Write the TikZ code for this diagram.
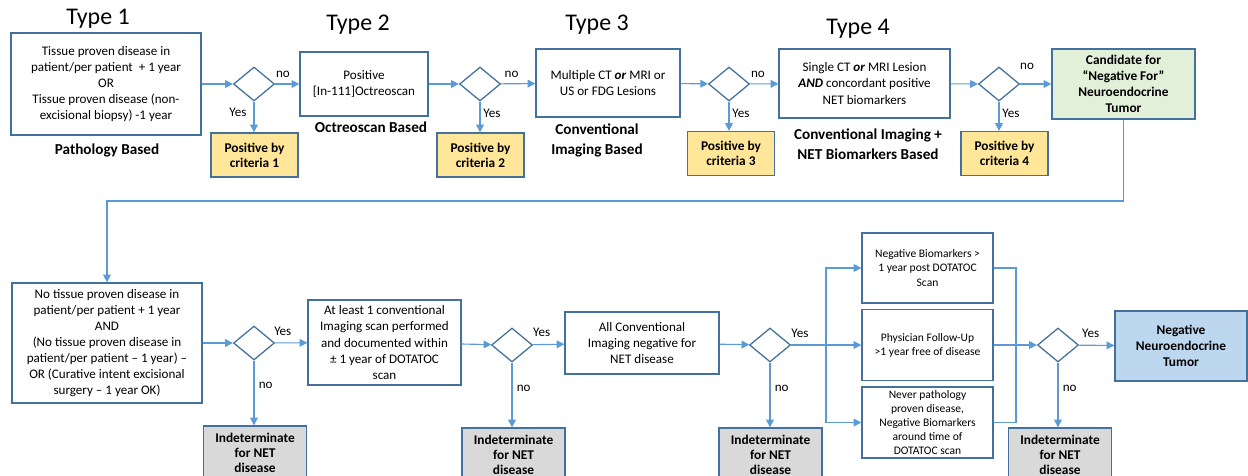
\documentclass[tikz,border=0pt]{standalone}
\usepackage{fontspec}
\setmainfont{Carlito}
\usetikzlibrary{shapes.geometric,arrows.meta,positioning}
\definecolor{edgeblue}{HTML}{41719C}
\definecolor{lineblue}{HTML}{5B9BD5}
\definecolor{posyellow}{HTML}{FFE699}
\definecolor{candgreen}{HTML}{E2F0D9}
\definecolor{negblue}{HTML}{BDD7EE}
\definecolor{indgrey}{HTML}{D9D9D9}
\tikzset{
  wh/.style 2 args={minimum width=#1*0.025cm, minimum height=#2*0.025cm},
  box/.style={draw=edgeblue, line width=0.9pt, fill=white, align=center, inner sep=1pt, font=\fontsize{9.3}{11.4}\selectfont},
  smallbox/.style={box, font=\fontsize{8.2}{10}\selectfont},
  result/.style={box, font=\bfseries\fontsize{9.5}{10.7}\selectfont},
  posbox/.style={result, fill=posyellow, wh={87}{44}},
  indet/.style={result, fill=indgrey, wh={103}{54}},
  check/.style={diamond, draw=edgeblue, line width=0.9pt, fill=white, inner sep=0pt, wh={41}{34}},
  arr/.style={draw=lineblue, line width=0.8pt, -{Triangle[length=5.5pt,width=5.5pt]}},
  conn/.style={draw=lineblue, line width=0.8pt},
  lbl/.style={font=\fontsize{9.3}{11.4}\selectfont, inner sep=1pt},
  typelbl/.style={font=\fontsize{17}{20}\selectfont},
  basis/.style={font=\bfseries\fontsize{10.8}{14.2}\selectfont, align=center},
}
\begin{document}
\begin{tikzpicture}[x=0.025cm,y=-0.025cm]
      \useasboundingbox (0,0) rectangle (1248,475);
      %% Top row
      \node[typelbl] (type1) at (98,19) {Type 1};
      \node[typelbl] (type2) at (358,25) {Type 2};
      \node[typelbl] (type3) at (597,25) {Type 3};
      \node[typelbl] (type4) at (858,29) {Type 4};
      \node[box,wh={190}{102}] (b1) at (106,84) {Tissue proven disease in\\patient/per patient\ \ + 1 year\\OR\\Tissue proven disease (non-\\excisional biopsy) -1 year};
      \node[check] (d1) at (254,84) {};
      \node[box,wh={128}{64}] (b2) at (364,84) {Positive\\{[}In-111]Octreoscan};
      \node[check] (d2) at (480,84) {};
      \node[box,wh={144}{68}] (b3) at (608,83) {Multiple CT \textbf{\textit{or}} MRI or\\US or FDG Lesions};
      \node[check] (d3) at (729,84) {};
      \node[box,wh={171}{69}] (b4) at (864.5,83.5) {Single CT \textbf{\textit{or}} MRI Lesion\\\textbf{\textit{AND}} concordant positive\\NET biomarkers};
      \node[check] (d4) at (999,84) {};
      \node[result,fill=candgreen,wh={143}{70},font=\bfseries\fontsize{9.5}{11.4}\selectfont] (cand) at (1123.5,84) {Candidate for\\“Negative For”\\Neuroendocrine\\Tumor};
      \node[posbox] (y1) at (254.5,155) {Positive by\\criteria 1};
      \node[posbox] (y2) at (480.5,155) {Positive by\\criteria 2};
      \node[posbox] (y3) at (731,153.5) {Positive by\\criteria 3};
      \node[posbox] (y4) at (1004.5,153.5) {Positive by\\criteria 4};
      \node[basis] (base1) at (107,150) {Pathology Based};
      \node[basis] (base2) at (371,127) {Octreoscan Based};
      \node[basis] (base3) at (597,140) {Conventional\\Imaging Based};
      \node[basis] (base4) at (868,144) {Conventional Imaging +\\NET Biomarkers Based};
      %% Bottom row
      \node[box,wh={190}{120}] (b5) at (107,343) {No tissue proven disease in\\patient/per patient + 1 year\\AND\\(No tissue proven disease in\\patient/per patient – 1 year) –\\OR (Curative intent excisional\\surgery – 1 year OK)};
      \node[check] (d5) at (254,343) {};
      \node[box,wh={153}{85}] (b6) at (384.5,342.5) {At least 1 conventional\\Imaging scan performed\\and documented within\\± 1 year of DOTATOC\\scan};
      \node[check] (d6) at (512,345) {};
      \node[box,wh={154}{62}] (b7) at (642,343) {All Conventional\\Imaging negative for\\NET disease};
      \node[check] (d7) at (770,345) {};
      \node[smallbox,wh={131}{70}] (bA) at (927.5,268) {Negative Biomarkers >\\1 year post DOTATOC\\Scan};
      \node[smallbox,wh={131}{71}] (bB) at (927.5,345) {Physician Follow-Up\\>1 year free of disease};
      \node[smallbox,wh={131}{71}] (bC) at (927.5,422.5) {Never pathology\\proven disease,\\Negative Biomarkers\\around time of\\DOTATOC scan};
      \node[check] (d8) at (1058,345) {};
      \node[result,fill=negblue,wh={132}{70},font=\bfseries\fontsize{9.5}{11.4}\selectfont] (neg) at (1181,346) {Negative\\Neuroendocrine\\Tumor};
      \node[indet] (g1) at (255,453) {Indeterminate\\for NET\\disease};
      \node[indet] (g2) at (513.5,455) {Indeterminate\\for NET\\disease};
      \node[indet] (g3) at (770.5,455) {Indeterminate\\for NET\\disease};
      \node[indet] (g4) at (1060,455) {Indeterminate\\for NET\\disease};
      \coordinate (bend) at (0,201);
      \coordinate (split) at (826,345);
      \coordinate (join) at (1016,345);
      %% Horizontal arrows, top
      \draw[arr] (b1) -- (d1);
      \draw[arr] (d1) -- node[lbl,above=3pt,pos=0.32] {no} (b2);
      \draw[arr] (b2) -- (d2);
      \draw[arr] (d2) -- node[lbl,above=3pt,pos=0.31] {no} (b3);
      \draw[arr] (b3) -- (d3);
      \draw[arr] (d3) -- node[lbl,above=3pt,pos=0.28] {no} (b4);
      \draw[arr] (b4) -- (d4);
      \draw[arr] (d4) -- node[lbl,above=9pt,pos=0.22] {no} (cand);
      %% Vertical arrows, top
      \draw[arr] (d1.south) -- node[lbl,left=4pt,pos=0.34] {Yes} (d1.south |- y1.north);
      \draw[arr] (d2.south) -- node[lbl,right=1pt,pos=0.38] {Yes} (d2.south |- y2.north);
      \draw[arr] (d3.south) -- node[lbl,right=1pt,pos=0.4] {Yes} (d3.south |- y3.north);
      \draw[arr] (d4.south) -- node[lbl,right=1pt,pos=0.4] {Yes} (d4.south |- y4.north);
      %% down to the second row
      \draw[arr] (cand.south) -- (cand.south |- bend) -| (b5.north);
      %% Horizontal arrows, bottom
      \draw[arr] (b5) -- (d5);
      \draw[arr] (d5) -- node[lbl,above=4pt,pos=0.24] {Yes} (b6);
      \draw[arr] (b6) -- (d6);
      \draw[arr] (d6) -- node[lbl,above=4pt,pos=0.28] {Yes} (b7);
      \draw[arr] (b7) -- (d7);
      \draw[conn] (d7.east) -- node[lbl,above=4pt,pos=0.25] {Yes} (split);
      \draw[arr] (split) |- (bA.west);
      \draw[arr] (split) -- (bB.west);
      \draw[arr] (split) |- (bC.west);
      \draw[conn] (bA.east) -| (join);
      \draw[conn] (bC.east) -| (join);
      \draw[arr] (bB.east) -- (d8.west);
      \draw[arr] (d8) -- node[lbl,above=4pt,pos=0.33] {Yes} (neg);
      %% Vertical arrows, bottom
      \draw[arr] (d5.south) -- node[lbl,right=2pt,pos=0.38] {no} (d5.south |- g1.north);
      \draw[arr] (d6.south) -- node[lbl,right=2pt,pos=0.39] {no} (d6.south |- g2.north);
      \draw[arr] (d7.south) -- node[lbl,right=2pt,pos=0.39] {no} (d7.south |- g3.north);
      \draw[arr] (d8.south) -- node[lbl,right=2pt,pos=0.39] {no} (d8.south |- g4.north);
\end{tikzpicture}
\end{document}
